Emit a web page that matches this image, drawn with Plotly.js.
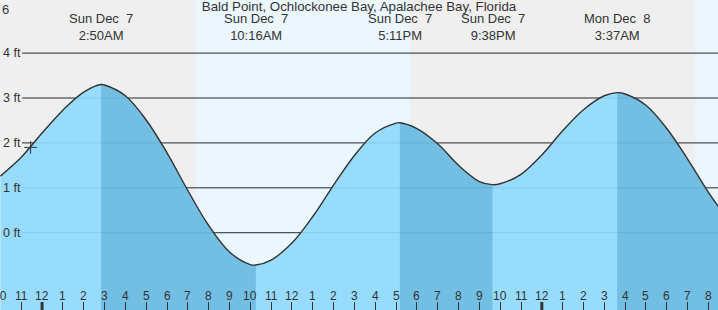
<!DOCTYPE html>
<html>
<head>
<meta charset="utf-8">
<script src="https://cdn.plot.ly/plotly-3.0.1.min.js"></script>
<style>html,body{margin:0;padding:0;background:#efefef;}#chart{width:718px;height:310px;}</style>
</head>
<body>
<div id="chart"></div>
<script>
// Hours relative to midnight, Sun Dec 7
const times   = [-2, -1, 0, 1, 2, 2.833, 3, 4, 5, 6, 7, 8, 9, 10, 10.267, 11, 12, 13, 14, 15, 16, 17, 17.183, 18, 19, 20, 21, 21.633, 22, 23, 24, 25, 26, 27, 27.617, 28, 29, 30, 31, 32, 32.5];
const heights = [1.26, 1.68, 2.22, 2.73, 3.13, 3.30, 3.29, 3.05, 2.51, 1.78, 0.94, 0.16, -0.43, -0.71, -0.72, -0.61, -0.23, 0.36, 1.06, 1.72, 2.22, 2.44, 2.45, 2.32, 1.98, 1.50, 1.14, 1.07, 1.09, 1.30, 1.73, 2.27, 2.74, 3.05, 3.12, 3.09, 2.84, 2.32, 1.64, 0.90, 0.57];

// High / low events
const eventTimes = [2.833, 10.267, 17.183, 21.633, 27.617];
const eventDays  = ["Sun Dec\u00a0 7", "Sun Dec\u00a0 7", "Sun Dec\u00a0 7", "Sun Dec\u00a0 7", "Mon Dec\u00a0 8"];
const eventClock = ["2:50AM", "10:16AM", "5:11PM", "9:38PM", "3:37AM"];

// Falling-tide segments (high -> low)
const fallStarts = [2.833, 17.183, 27.617];
const fallEnds   = [10.267, 21.633, 32.5];

// Daylight periods [sunrise, sunset]
const dayStarts = [7.38, 31.36];
const dayEnds   = [17.66, 40];

// Axis ticks
const tickHours  = [-2,-1,0,1,2,3,4,5,6,7,8,9,10,11,12,13,14,15,16,17,18,19,20,21,22,23,24,25,26,27,28,29,30,31,32];
const tickLabels = ["10","11","12","1","2","3","4","5","6","7","8","9","10","11","12","1","2","3","4","5","6","7","8","9","10","11","12","1","2","3","4","5","6","7","8"];
const midnightHours = [0, 24];
const feetTicks = [0, 1, 2, 3, 4];

// Current time marker
const nowTime = [-0.55];
const nowHeight = [1.90];

const title = "Bald Point, Ochlockonee Bay, Apalachee Bay, Florida";

const LIGHT = "#97dcfd";
const DARK = "#72bfe3";
const BASE = -2.5;
const H = 310;

const traces = [];
function seg(a, b) {
  const xs = [], ys = [];
  times.forEach((t, i) => { if (t >= a - 1e-9 && t <= b + 1e-9) { xs.push(t); ys.push(heights[i]); } });
  return {xs, ys};
}
traces.push({x:[times[0], times[times.length-1]], y:[BASE, BASE], mode:"lines", line:{width:0}, hoverinfo:"skip", showlegend:false});
traces.push({x:times, y:heights, mode:"lines", line:{width:0, shape:"spline"}, fill:"tonexty", fillcolor:LIGHT, hoverinfo:"skip", showlegend:false});
fallStarts.forEach((s, k) => {
  const sg = seg(s, fallEnds[k]);
  traces.push({x:[sg.xs[0], sg.xs[sg.xs.length-1]], y:[BASE, BASE], mode:"lines", line:{width:0}, hoverinfo:"skip", showlegend:false});
  traces.push({x:sg.xs, y:sg.ys, mode:"lines", line:{width:0, shape:"spline"}, fill:"tonexty", fillcolor:DARK, hoverinfo:"skip", showlegend:false});
});
traces.push({x:times, y:heights, mode:"lines", line:{width:1.4, color:"#333", shape:"spline"}, hoverinfo:"skip", showlegend:false});
traces.push({x:nowTime, y:nowHeight, mode:"markers", marker:{symbol:"cross-thin", size:9, line:{width:1, color:"#333"}}, hoverinfo:"skip", showlegend:false});

const shapes = [];
dayStarts.forEach((s, k) => {
  shapes.push({type:"rect", xref:"x", yref:"paper", x0:s, x1:dayEnds[k], y0:0, y1:1, fillcolor:"#ebf6fe", line:{width:0}, layer:"below"});
});
feetTicks.forEach(f => {
  shapes.push({type:"line", xref:"paper", yref:"y", x0:22/718, x1:1, y0:f, y1:f, line:{color:"#333", width:1}, layer:"below"});
});
feetTicks.forEach(f => {
  shapes.push({type:"line", xref:"paper", yref:"y", x0:22/718, x1:1, y0:f, y1:f, line:{color:"rgba(0,80,140,0.13)", width:1}, layer:"above"});
});
midnightHours.forEach(h => {
  shapes.push({type:"line", xref:"x", yref:"paper", x0:h, x1:h, y0:0, y1:8/H, line:{color:"#333", width:3}, layer:"above"});
});

const annotations = [];
eventTimes.forEach((t, i) => {
  annotations.push({x:t, xref:"x", y:1-27/H, yref:"paper", text:eventDays[i] + "<br>" + eventClock[i], showarrow:false,
                    xanchor:"center", yanchor:"middle", align:"center", font:{size:13, color:"#333"}, borderpad:0});
});
tickHours.forEach((h, i) => {
  annotations.push({x:h, xref:"x", y:1-296/H, yref:"paper", text:tickLabels[i], showarrow:false,
                    xanchor:"center", yanchor:"middle", font:{size:12, color:"#333"}, borderpad:0});
});
annotations.push({x:0, xref:"paper", y:1-9/H, yref:"paper", text:"6", showarrow:false, xanchor:"left", yanchor:"middle", font:{size:13, color:"#333"}});

const layout = {
  width:718, height:H,
  margin:{l:0, r:0, t:0, b:0, pad:0},
  paper_bgcolor:"#efefef", plot_bgcolor:"#efefef",
  font:{family:"Liberation Sans, Arial, sans-serif", size:12, color:"#333"},
  title:{text:title, x:0.5, xanchor:"center", y:1-6.5/H, yanchor:"middle", yref:"container", font:{size:13.3, color:"#333"}},
  showlegend:false,
  xaxis:{range:[-2.02, 32.46], tickvals:tickHours, ticks:"inside", ticklen:8, tickwidth:1, tickcolor:"#333",
         showticklabels:false, showgrid:false, zeroline:false, showline:false, fixedrange:true},
  yaxis:{range:[-1.722, 5.183], tickvals:feetTicks, ticktext:feetTicks.map(f => f + " ft"), ticks:"", ticklabelposition:"inside",
         tickfont:{size:12.5, color:"#333"}, showgrid:false, zeroline:false, showline:false, fixedrange:true},
  shapes, annotations
};

Plotly.newPlot("chart", traces, layout, {staticPlot:true, displayModeBar:false});
</script>
</body>
</html>
